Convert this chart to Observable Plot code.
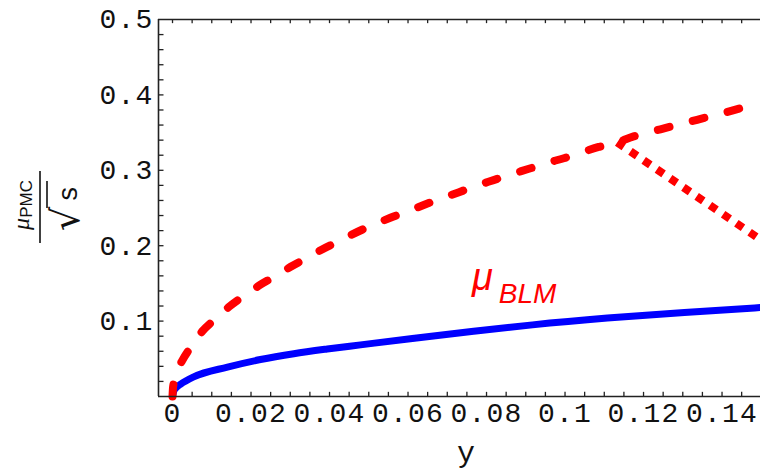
<!DOCTYPE html>
<html><head><meta charset="utf-8">
<script src="https://cdn.jsdelivr.net/npm/d3@7"></script>
<script src="https://cdn.jsdelivr.net/npm/@observablehq/plot@0.6"></script>
<style>
body{margin:0;background:#fff}
svg [aria-label="x-axis tick label"] text, svg [aria-label="y-axis tick label"] text {letter-spacing:1.2px}
</style>
</head><body><div id="chart"></div>
<script>
// dashed red curve (mu_PMC / sqrt(s))
const pmcX = [0, 0.0001, 0.0003, 0.00076, 0.0015, 0.0024, 0.0050, 0.0075, 0.0114, 0.0144, 0.0186, 0.0220, 0.0263, 0.0301, 0.0343, 0.0381, 0.0428, 0.0458, 0.0555, 0.0601, 0.0640, 0.0687, 0.0730, 0.0777, 0.0818, 0.0865, 0.0908, 0.0955, 0.0997, 0.1044, 0.1086, 0.1133, 0.1175, 0.1226, 0.1269, 0.1315, 0.1358, 0.1404, 0.1451, 0.1494, 0.1498];
const pmcY = [0, 0.010, 0.0176, 0.027, 0.038, 0.047, 0.068, 0.086, 0.105, 0.119, 0.135, 0.147, 0.160, 0.172, 0.184, 0.195, 0.207, 0.215, 0.237, 0.246, 0.254, 0.263, 0.271, 0.280, 0.287, 0.295, 0.302, 0.310, 0.316, 0.324, 0.331, 0.337, 0.345, 0.352, 0.358, 0.364, 0.370, 0.376, 0.383, 0.389, 0.3895];
// solid blue curve (mu_BLM)
const blmX = [0, 0.0003, 0.001, 0.002, 0.0054, 0.0140, 0.0224, 0.0309, 0.0394, 0.0479, 0.0611, 0.0767, 0.0917, 0.1108, 0.1304, 0.1498];
const blmY = [0, 0.007, 0.012, 0.016, 0.026, 0.039, 0.049, 0.0568, 0.0630, 0.0685, 0.0770, 0.0865, 0.0950, 0.1040, 0.1115, 0.118];
// dotted red drop
const dropX = [0.1133, 0.1498];
const dropY = [0.337, 0.208];

const xTickValues = [0, 0.02, 0.04, 0.06, 0.08, 0.1, 0.12, 0.14];
const xTickLabels = ["0", "0.02", "0.04", "0.06", "0.08", "0.1", "0.12", "0.14"];
const yTickValues = [0.1, 0.2, 0.3, 0.4, 0.5];
const yTickLabels = ["0.1", "0.2", "0.3", "0.4", "0.5"];
const xDomain = [-0.00357, 0.1498];
const yDomain = [0, 0.5];

const pmc = pmcX.map((x, i) => ({x, y: pmcY[i]}));
const blm = blmX.map((x, i) => ({x, y: blmY[i]}));
const drop = dropX.map((x, i) => ({x, y: dropY[i]}));
const xMinor = d3.range(0, 0.1496, 0.005);
const yMinor = d3.range(0.02, 0.499, 0.02);

const axisColor = "#222";
const plot = Plot.plot({
  width: 760, height: 474,
  marginLeft: 158, marginRight: 0, marginTop: 19, marginBottom: 78,
  x: {domain: xDomain},
  y: {domain: yDomain},
  style: {fontFamily: "'Liberation Mono', 'DejaVu Sans Mono', monospace", fontSize: "28px", background: "white", color: "#111"},
  marks: [
    Plot.axisX({ticks: xTickValues, tickSize: 0, tickPadding: 6, tickFormat: d => xTickLabels[xTickValues.indexOf(d)], label: null, fontSize: 28}),
    Plot.axisY({ticks: yTickValues, tickSize: 0, tickPadding: 5, tickFormat: d => yTickLabels[yTickValues.indexOf(d)], label: null, fontSize: 28}),
    Plot.ruleX(xMinor, {x: d => d, y1: () => 0, y2: () => 0.0055, stroke: axisColor, strokeWidth: 1.3}),
    Plot.ruleX(xMinor, {x: d => d, y1: () => 0.5, y2: () => 0.4945, stroke: axisColor, strokeWidth: 1.3}),
    Plot.ruleY(yMinor, {y: d => d, x1: () => xDomain[0], x2: () => xDomain[0] + 0.0014, stroke: axisColor, strokeWidth: 1.3}),
    Plot.line(blm, {x: "x", y: "y", stroke: "#0000ff", strokeWidth: 7, curve: "monotone-x"}),
    Plot.line(pmc, {x: "x", y: "y", stroke: "#ff0000", strokeWidth: 8, strokeDasharray: "12,24", strokeLinecap: "round", curve: "monotone-x"}),
    Plot.line(drop, {x: "x", y: "y", stroke: "#ff0000", strokeWidth: 8, strokeDasharray: "8,8", strokeLinecap: "butt"}),
    Plot.ruleX([xDomain[0]], {stroke: axisColor, strokeWidth: 1.6}),
    Plot.ruleY([0, 0.5], {stroke: axisColor, strokeWidth: 1.6})
  ]
});
document.getElementById("chart").append(plot);

const svg = d3.select(plot);
const sx = plot.scale("x"), sy = plot.scale("y");

// annotation mu_BLM
const ann = svg.append("text")
  .attr("x", sx.apply(0.0764)).attr("y", sy.apply(0.1406))
  .attr("text-anchor", "start")
  .attr("fill", "#ff0000").attr("font-family", "'Liberation Sans', Arial, sans-serif")
  .attr("font-style", "italic");
ann.append("tspan").attr("font-size", 38).text("μ");
ann.append("tspan").attr("font-size", 28).attr("dy", 13).attr("dx", 6).text("BLM");

// x-axis title
svg.append("text").attr("x", 466).attr("y", 462).attr("text-anchor", "middle")
  .attr("font-family", "'Liberation Mono', monospace").attr("font-size", 30).attr("fill", "#111").text("y");

// y-axis title: fraction mu_PMC / sqrt(s), rotated
const g = svg.append("g").attr("transform", "translate(40,207) rotate(-90)").attr("fill", "#111");
const num = g.append("text").attr("x", 2).attr("y", -11).attr("text-anchor", "middle");
num.append("tspan").attr("font-family", "'Liberation Serif', serif").attr("font-style", "italic").attr("font-size", 24).text("μ");
num.append("tspan").attr("font-family", "'Liberation Sans', sans-serif").attr("font-size", 17).attr("dy", 3).text("PMC");
g.append("line").attr("x1", -36).attr("x2", 36).attr("y1", 0).attr("y2", 0).attr("stroke", "#111").attr("stroke-width", 1.6);
g.append("text").attr("x", -12).attr("y", 39).attr("text-anchor", "middle")
  .attr("font-family", "'DejaVu Sans', sans-serif").attr("font-size", 38).text("√");
g.append("text").attr("x", 13).attr("y", 37).attr("text-anchor", "middle")
  .attr("font-family", "'Liberation Mono', monospace").attr("font-size", 27).text("s");
g.append("line").attr("x1", -1).attr("x2", 26).attr("y1", 7).attr("y2", 7).attr("stroke", "#111").attr("stroke-width", 1.6);
</script>
</body></html>
